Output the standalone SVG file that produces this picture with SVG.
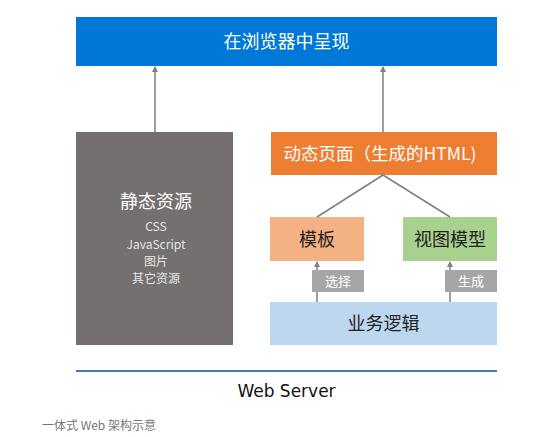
<svg xmlns="http://www.w3.org/2000/svg" width="553" height="437" viewBox="0 0 553 437">
<style>
text{font-family:"Microsoft YaHei","Noto Sans CJK SC","Liberation Sans",sans-serif;}
.w{fill:#ffffff;text-anchor:middle;}
.d{fill:#222222;text-anchor:middle;}
.s{fill:#ffffff;fill-opacity:0.85;text-anchor:middle;font-size:12px;}
.c{stroke:#7f7f7f;stroke-width:1.5;fill:none;}
</style>
<defs>
<marker id="ah" viewBox="0 0 6 6" refX="5" refY="3" markerWidth="4" markerHeight="4" orient="auto">
<path d="M0,0 L6,3 L0,6 z" fill="#7f7f7f"/>
</marker>
</defs>
<rect width="553" height="437" fill="#ffffff"/>
<g id="browser">
<rect x="76" y="17" width="421" height="49" fill="#0078d7"/>
<text class="w" x="286.5" y="48" font-size="18">在浏览器中呈现</text>
</g>
<g id="static">
<rect x="76" y="132" width="157" height="213" fill="#757070"/>
<text class="w" x="156" y="208" font-size="18">静态资源</text>
<text class="s" x="156" y="231">CSS</text>
<text class="s" x="156" y="249">JavaScript</text>
<text class="s" x="156" y="266">图片</text>
<text class="s" x="156" y="283">其它资源</text>
</g>
<g id="dynamic">
<rect x="271" y="132" width="226" height="43" fill="#ed7d31"/>
<text class="w" x="380" y="160" font-size="17.5">动态页面（生成的HTML)</text>
</g>
<g id="template">
<rect x="270" y="217" width="94" height="44" fill="#f4b183"/>
<text class="d" x="317" y="246" font-size="18">模板</text>
</g>
<g id="viewmodel">
<rect x="403" y="217" width="94" height="44" fill="#a9d18e"/>
<text class="d" x="450" y="246" font-size="18">视图模型</text>
</g>
<g id="logic">
<rect x="270" y="302" width="227" height="43" fill="#bdd7ee"/>
<text class="d" x="383.5" y="330" font-size="18">业务逻辑</text>
</g>
<g id="connectors">
<line class="c" x1="155" y1="132" x2="155" y2="67" marker-end="url(#ah)"/>
<line class="c" x1="383" y1="132" x2="383" y2="67" marker-end="url(#ah)"/>
<line class="c" x1="383" y1="175" x2="317" y2="217"/>
<line class="c" x1="383" y1="175" x2="450" y2="217"/>
<line class="c" x1="317" y1="302" x2="317" y2="262" marker-end="url(#ah)"/>
<line class="c" x1="450" y1="302" x2="450" y2="262" marker-end="url(#ah)"/>
</g>
<g id="label-select">
<rect x="312" y="270" width="52" height="22" fill="#a6a6a6"/>
<text class="w" x="338" y="286" font-size="13">选择</text>
</g>
<g id="label-generate">
<rect x="445" y="270" width="52" height="22" fill="#a6a6a6"/>
<text class="w" x="471" y="286" font-size="13">生成</text>
</g>
<g id="server">
<line x1="76" y1="371" x2="497" y2="371" stroke="#4472c4" stroke-width="2"/>
<text x="286.5" y="397" font-size="17" fill="#111111" text-anchor="middle" style="font-family:'DejaVu Sans','Noto Sans',sans-serif">Web Server</text>
</g>
<text x="42" y="430" font-size="12" fill="#777777">一体式 Web 架构示意</text>
</svg>
